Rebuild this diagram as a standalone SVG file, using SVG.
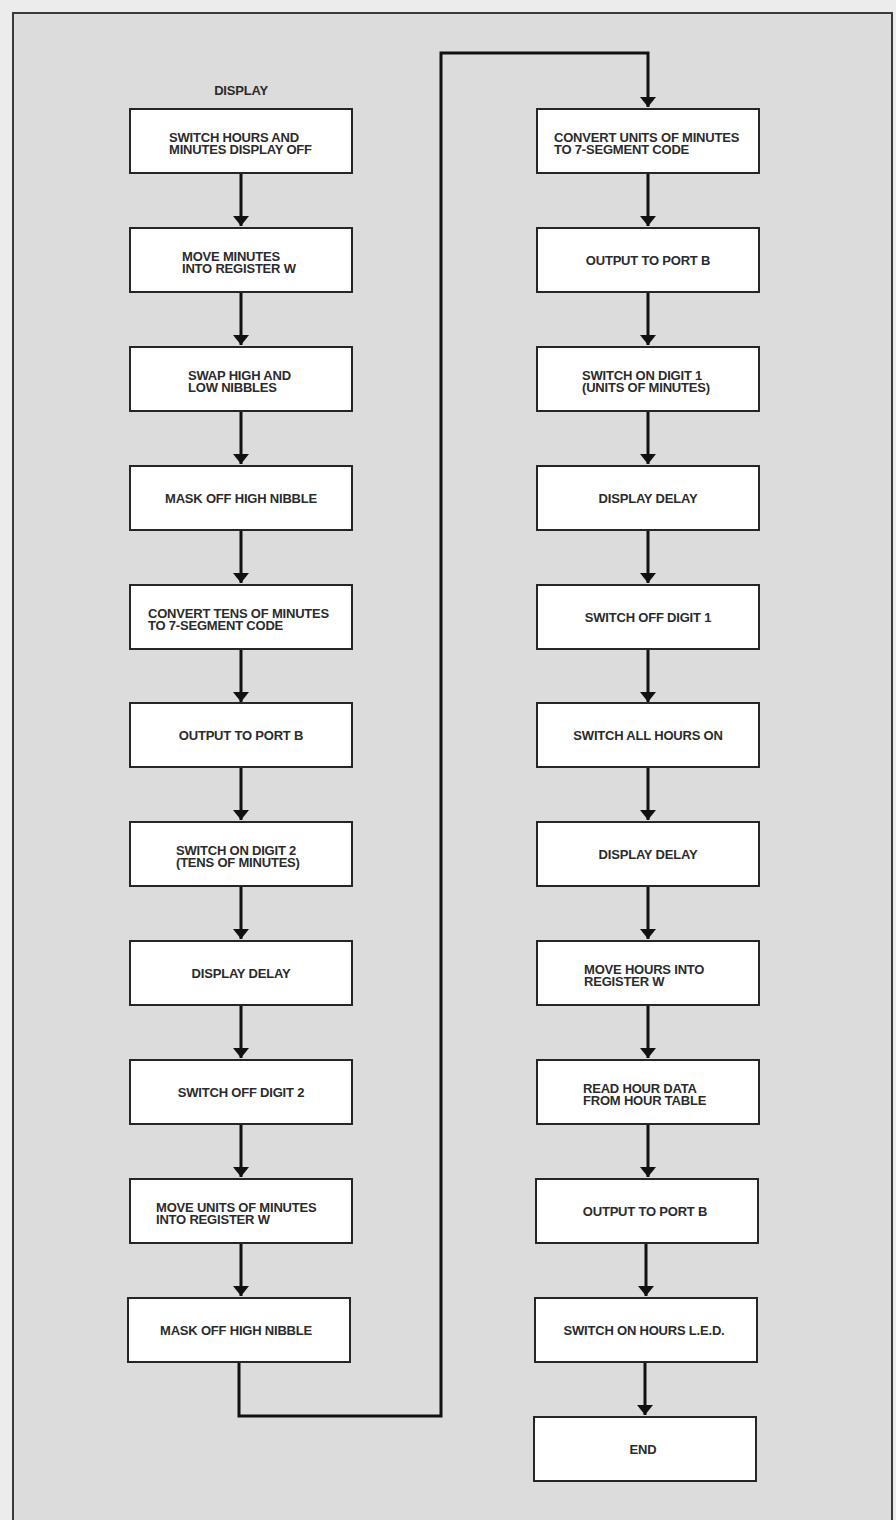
<svg xmlns="http://www.w3.org/2000/svg" width="896" height="1520" viewBox="0 0 896 1520">
<style>
.box{fill:#ffffff;stroke:#262626;stroke-width:2}
.t{font-family:"Liberation Sans",Arial,sans-serif;font-weight:bold;font-size:13px;letter-spacing:-0.2px;fill:#2b2b2b}
.c{text-anchor:middle}
.con{fill:none;stroke:#111;stroke-width:3}
</style>
<defs>
<marker id="ah" viewBox="0 0 10 16" refX="10" refY="8" markerWidth="12" markerHeight="16" markerUnits="userSpaceOnUse" orient="auto"><path d="M0,0 L0,16 L10,8 Z" fill="#111"/></marker>
</defs>
<rect x="0" y="0" width="896" height="1520" fill="#ececec"/>
<rect x="13" y="13" width="879" height="1510" fill="#dcdcdc" stroke="#3a3a3a" stroke-width="2"/>
<text class="t c" x="241" y="95">DISPLAY</text>
<g id="connectors">
<line class="con" x1="241" y1="173" x2="241" y2="226" marker-end="url(#ah)"/>
<line class="con" x1="241" y1="292" x2="241" y2="345" marker-end="url(#ah)"/>
<line class="con" x1="241" y1="411" x2="241" y2="464" marker-end="url(#ah)"/>
<line class="con" x1="241" y1="530" x2="241" y2="583" marker-end="url(#ah)"/>
<line class="con" x1="241" y1="649" x2="241" y2="702" marker-end="url(#ah)"/>
<line class="con" x1="241" y1="767" x2="241" y2="820" marker-end="url(#ah)"/>
<line class="con" x1="241" y1="886" x2="241" y2="939" marker-end="url(#ah)"/>
<line class="con" x1="241" y1="1005" x2="241" y2="1058" marker-end="url(#ah)"/>
<line class="con" x1="241" y1="1124" x2="241" y2="1177" marker-end="url(#ah)"/>
<line class="con" x1="241" y1="1243" x2="241" y2="1296" marker-end="url(#ah)"/>
<path class="con" d="M239,1362 L239,1416 L441,1416 L441,53 L648,53 L648,107" marker-end="url(#ah)"/>
<line class="con" x1="648" y1="173" x2="648" y2="226" marker-end="url(#ah)"/>
<line class="con" x1="648" y1="292" x2="648" y2="345" marker-end="url(#ah)"/>
<line class="con" x1="648" y1="411" x2="648" y2="464" marker-end="url(#ah)"/>
<line class="con" x1="648" y1="530" x2="648" y2="583" marker-end="url(#ah)"/>
<line class="con" x1="648" y1="649" x2="648" y2="702" marker-end="url(#ah)"/>
<line class="con" x1="648" y1="767" x2="648" y2="820" marker-end="url(#ah)"/>
<line class="con" x1="648" y1="886" x2="648" y2="939" marker-end="url(#ah)"/>
<line class="con" x1="648" y1="1005" x2="648" y2="1058" marker-end="url(#ah)"/>
<line class="con" x1="648" y1="1124" x2="648" y2="1177" marker-end="url(#ah)"/>
<line class="con" x1="646" y1="1243" x2="646" y2="1296" marker-end="url(#ah)"/>
<line class="con" x1="645" y1="1362" x2="645" y2="1415" marker-end="url(#ah)"/>
</g>
<g id="L1"><rect class="box" x="130" y="109" width="222" height="64"/><text class="t" x="169" y="141.7">SWITCH HOURS AND</text><text class="t" x="169" y="154">MINUTES DISPLAY OFF</text></g>
<g id="L2"><rect class="box" x="130" y="228" width="222" height="64"/><text class="t" x="182" y="260.7">MOVE MINUTES</text><text class="t" x="182" y="273">INTO REGISTER W</text></g>
<g id="L3"><rect class="box" x="130" y="347" width="222" height="64"/><text class="t" x="188" y="379.7">SWAP HIGH AND</text><text class="t" x="188" y="392">LOW NIBBLES</text></g>
<g id="L4"><rect class="box" x="130" y="466" width="222" height="64"/><text class="t c" x="241" y="503">MASK OFF HIGH NIBBLE</text></g>
<g id="L5"><rect class="box" x="130" y="585" width="222" height="64"/><text class="t" x="148" y="617.7">CONVERT TENS OF MINUTES</text><text class="t" x="148" y="630">TO 7-SEGMENT CODE</text></g>
<g id="L6"><rect class="box" x="130" y="703" width="222" height="64"/><text class="t c" x="241" y="740">OUTPUT TO PORT B</text></g>
<g id="L7"><rect class="box" x="130" y="822" width="222" height="64"/><text class="t" x="176" y="854.7">SWITCH ON DIGIT 2</text><text class="t" x="176" y="867">(TENS OF MINUTES)</text></g>
<g id="L8"><rect class="box" x="130" y="941" width="222" height="64"/><text class="t c" x="241" y="978">DISPLAY DELAY</text></g>
<g id="L9"><rect class="box" x="130" y="1060" width="222" height="64"/><text class="t c" x="241" y="1097">SWITCH OFF DIGIT 2</text></g>
<g id="L10"><rect class="box" x="130" y="1179" width="222" height="64"/><text class="t" x="156" y="1211.7">MOVE UNITS OF MINUTES</text><text class="t" x="156" y="1224">INTO REGISTER W</text></g>
<g id="L11"><rect class="box" x="128" y="1298" width="222" height="64"/><text class="t c" x="236" y="1335">MASK OFF HIGH NIBBLE</text></g>
<g id="R1"><rect class="box" x="537" y="109" width="222" height="64"/><text class="t" x="554" y="141.7">CONVERT UNITS OF MINUTES</text><text class="t" x="554" y="154">TO 7-SEGMENT CODE</text></g>
<g id="R2"><rect class="box" x="537" y="228" width="222" height="64"/><text class="t c" x="648" y="265">OUTPUT TO PORT B</text></g>
<g id="R3"><rect class="box" x="537" y="347" width="222" height="64"/><text class="t" x="582" y="379.7">SWITCH ON DIGIT 1</text><text class="t" x="582" y="392">(UNITS OF MINUTES)</text></g>
<g id="R4"><rect class="box" x="537" y="466" width="222" height="64"/><text class="t c" x="648" y="503">DISPLAY DELAY</text></g>
<g id="R5"><rect class="box" x="537" y="585" width="222" height="64"/><text class="t c" x="648" y="622">SWITCH OFF DIGIT 1</text></g>
<g id="R6"><rect class="box" x="537" y="703" width="222" height="64"/><text class="t c" x="648" y="740">SWITCH ALL HOURS ON</text></g>
<g id="R7"><rect class="box" x="537" y="822" width="222" height="64"/><text class="t c" x="648" y="859">DISPLAY DELAY</text></g>
<g id="R8"><rect class="box" x="537" y="941" width="222" height="64"/><text class="t" x="584" y="973.7">MOVE HOURS INTO</text><text class="t" x="584" y="986">REGISTER W</text></g>
<g id="R9"><rect class="box" x="537" y="1060" width="222" height="64"/><text class="t" x="583" y="1092.7">READ HOUR DATA</text><text class="t" x="583" y="1105">FROM HOUR TABLE</text></g>
<g id="R10"><rect class="box" x="536" y="1179" width="222" height="64"/><text class="t c" x="645" y="1216">OUTPUT TO PORT B</text></g>
<g id="R11"><rect class="box" x="535" y="1298" width="222" height="64"/><text class="t c" x="644" y="1335">SWITCH ON HOURS L.E.D.</text></g>
<g id="R12"><rect class="box" x="534" y="1417" width="222" height="64"/><text class="t c" x="643" y="1454">END</text></g>
</svg>
